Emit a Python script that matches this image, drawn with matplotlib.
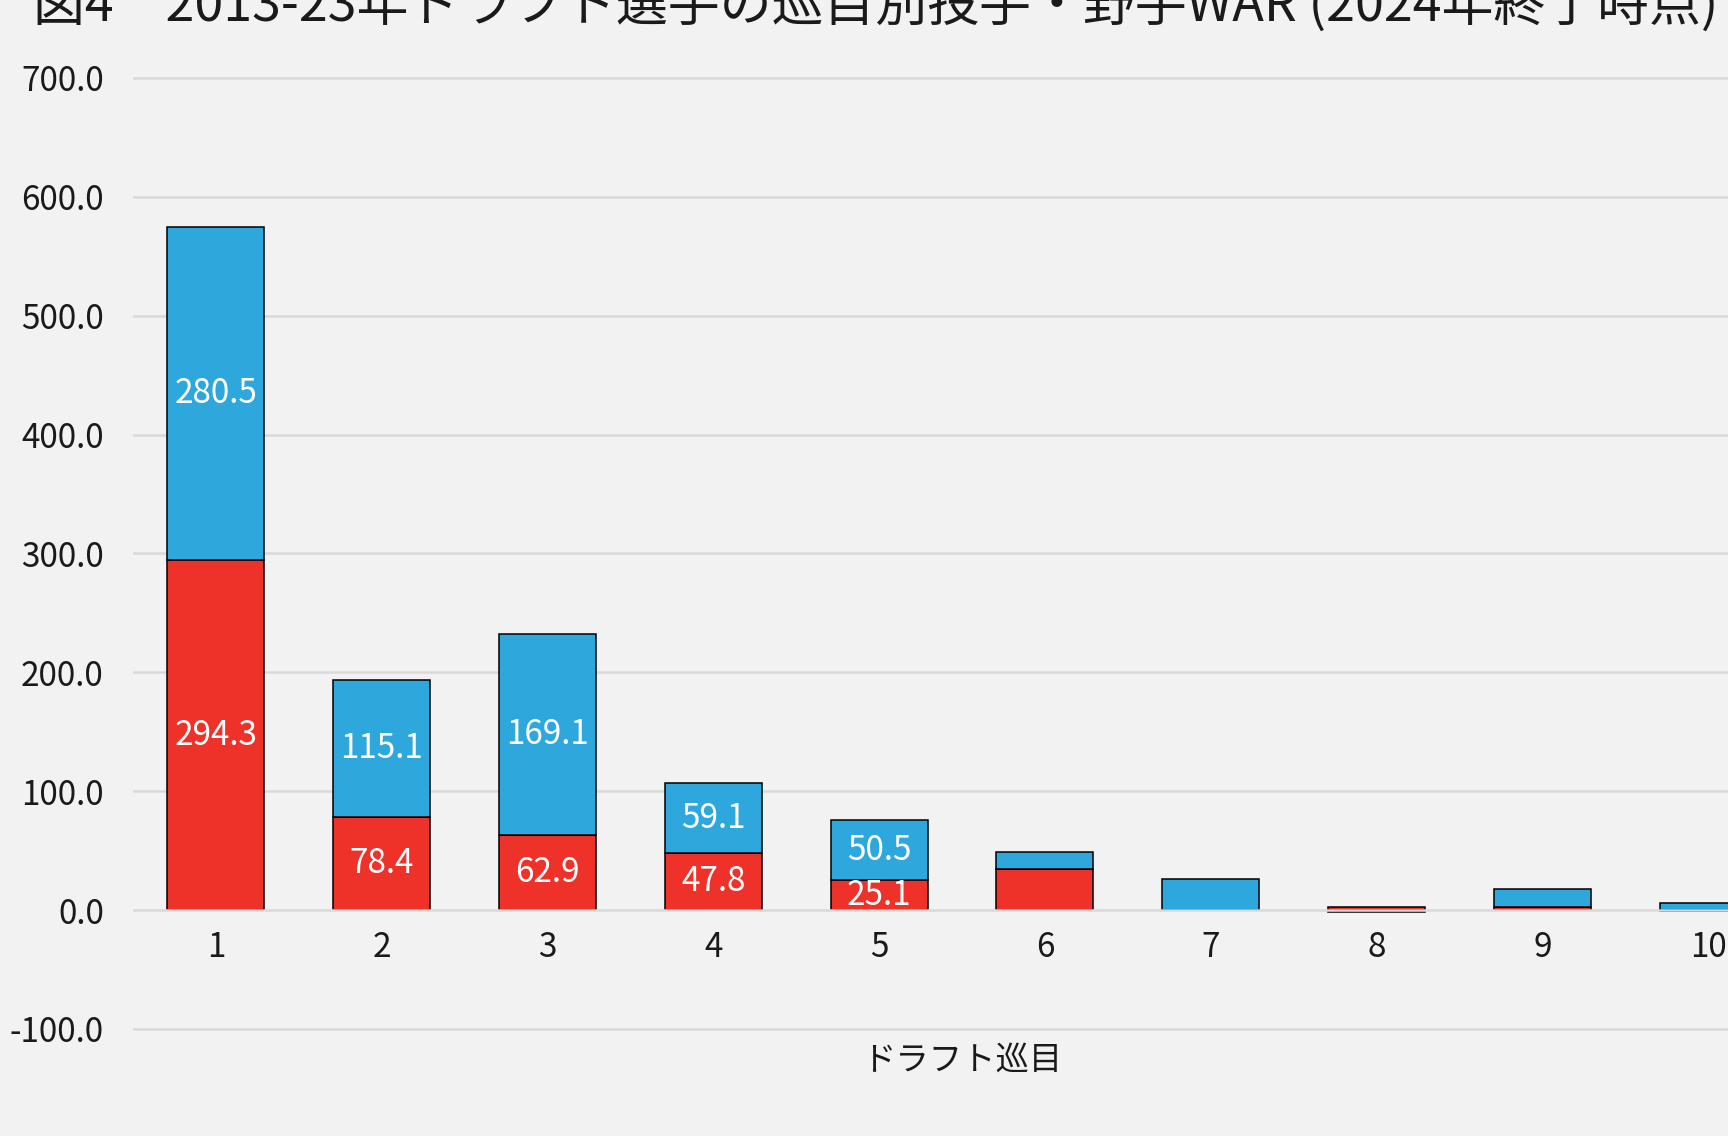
import matplotlib
matplotlib.use("Agg")
import matplotlib.pyplot as plt
import numpy as np

plt.rcParams['font.family'] = ['Noto Sans CJK JP', 'DejaVu Sans']

rounds = ['1', '2', '3', '4', '5', '6', '7', '8', '9', '10']
war_red = [294.3, 78.4, 62.9, 47.8, 25.1, 35.0, 0.0, 2.5, 2.8, -0.8]
war_blue = [280.5, 115.1, 169.1, 59.1, 50.5, 13.9, 25.8, -1.8, 14.8, 6.0]
label_red = ['294.3', '78.4', '62.9', '47.8', '25.1', '', '', '', '', '']
label_blue = ['280.5', '115.1', '169.1', '59.1', '50.5', '', '', '', '', '']
yticks = [-100, 0, 100, 200, 300, 400, 500, 600, 700]

bg = '#f2f2f2'
red = '#ee3129'
blue = '#2ea7dc'

W, H = 1728, 1136
fig = plt.figure(figsize=(W / 100, H / 100), dpi=100, facecolor=bg)
# axes runs past the right edge, like the cropped original
ax = fig.add_axes([133 / W, 0.0921, (1791 - 133) / W, 0.8414])
ax.set_facecolor(bg)

x = np.arange(1, len(rounds) + 1)
red_v = np.array(war_red)
blue_v = np.array(war_blue)
# positive values stack upward from 0, negatives stack downward
red_bottom = np.zeros(len(x))
blue_bottom = np.where((blue_v >= 0) & (red_v >= 0), red_v,
                       np.where((blue_v < 0) & (red_v < 0), red_v, 0))

ax.bar(x, red_v, 0.585, bottom=red_bottom, color=red, edgecolor='black',
       linewidth=1.1, zorder=2)
ax.bar(x, blue_v, 0.585, bottom=blue_bottom, color=blue, edgecolor='black',
       linewidth=1.1, zorder=2)

for i in range(len(x)):
    if label_red[i]:
        ax.text(x[i], red_bottom[i] + red_v[i] / 2, label_red[i], ha='center',
                va='center', color='white', fontsize=24, zorder=4)
    if label_blue[i]:
        ax.text(x[i], blue_bottom[i] + blue_v[i] / 2, label_blue[i], ha='center',
                va='center', color='white', fontsize=24, zorder=4)

ax.spines['bottom'].set_position(('data', 0))
for s in ax.spines.values():
    s.set_visible(False)
ax.set_xlim(0.5, 10.5)
ax.set_ylim(-102, 702)
ax.set_yticks(yticks)
ax.set_yticklabels([f'{v:.1f}' for v in yticks])
ax.set_xticks(x)
ax.set_xticklabels(rounds)
ax.tick_params(axis='both', length=0, labelsize=24, labelcolor='#1a1a1a')
ax.tick_params(axis='y', pad=21)
ax.tick_params(axis='x', pad=14)

for v in yticks:
    ax.axhline(v, color='#d9d9d9', linewidth=1.8, zorder=3 if v == 0 else 1)

fig.text(962 / W, 1 - 1060 / H, 'ドラフト巡目', ha='center', va='center',
         fontsize=24, color='#1a1a1a')
fig.text(33 / W, 1 - 21 / H,
         '図4　2013-23年ドラフト選手の巡目別投手・野手WAR (2024年終了時点)',
         ha='left', va='baseline', fontsize=37.4, color='#1a1a1a')

fig.savefig('out.png', dpi=100, facecolor=bg)
